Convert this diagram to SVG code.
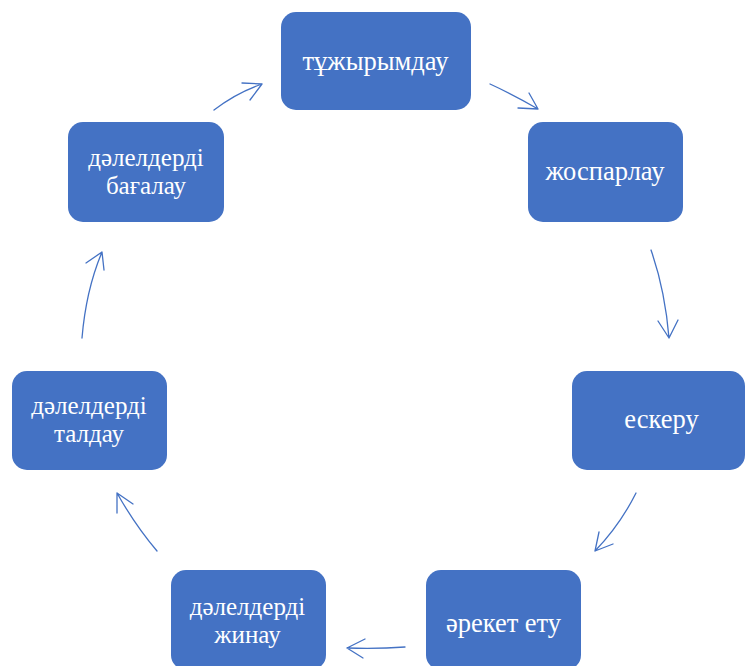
<svg xmlns="http://www.w3.org/2000/svg" width="746" height="666" viewBox="0 0 746 666">
<style>
.box{fill:#4472C4;}
.t{font-family:"Liberation Serif","Times New Roman",serif;font-size:26.5px;fill:#FFFFFF;text-anchor:middle;}
.t2{font-family:"Liberation Serif","Times New Roman",serif;font-size:25px;fill:#FFFFFF;text-anchor:middle;}
.c{fill:none;stroke:#4472C4;stroke-width:1.3;stroke-linecap:round;stroke-linejoin:round;}
</style>
<rect width="746" height="666" fill="#FFFFFF"/>
<g id="n1"><rect class="box" x="281" y="12" width="190" height="98" rx="15"/><text class="t" x="375.5" y="70">тұжырымдау</text></g>
<g id="n2"><rect class="box" x="528" y="122" width="155" height="100" rx="15"/><text class="t" x="605" y="180">жоспарлау</text></g>
<g id="n3"><rect class="box" x="572" y="371" width="173" height="99" rx="15"/><text class="t" x="661.5" y="428">ескеру</text></g>
<g id="n4"><rect class="box" x="426" y="570" width="155" height="100" rx="15"/><text class="t" x="503.5" y="631.5">әрекет ету</text></g>
<g id="n5"><rect class="box" x="171" y="570" width="155" height="100" rx="15"/><text class="t2" x="247.5" y="615.3">дәлелдерді</text><text class="t2" x="247.5" y="643.2">жинау</text></g>
<g id="n6"><rect class="box" x="12" y="371" width="155" height="99" rx="15"/><text class="t2" x="89" y="414.3">дәлелдерді</text><text class="t2" x="89" y="442.2">талдау</text></g>
<g id="n7"><rect class="box" x="68" y="122" width="156" height="100" rx="15"/><text class="t2" x="146" y="165.8">дәлелдерді</text><text class="t2" x="146" y="193.7">бағалау</text></g>
<g id="connectors">
<path class="c" d="M490,84 Q514,95 538,109 M518,108 L538,109 L529,93"/>
<path class="c" d="M651,250 Q665,290 669,338 M658,321 L669,338 L678,320"/>
<path class="c" d="M636,493 Q620,525 595,551 M599,532 L595,551 L613,544"/>
<path class="c" d="M405,647 Q378,649 347,648 M365,639 L347,648 L363,658"/>
<path class="c" d="M157,551 Q135,525 117,493 M117,513 L117,493 L133,504"/>
<path class="c" d="M82,338 Q86,290 102,252 M86,263 L102,252 L104,270"/>
<path class="c" d="M214,110 Q236,93 262,84 M242,83 L262,84 L250,100"/>
</g>
</svg>
